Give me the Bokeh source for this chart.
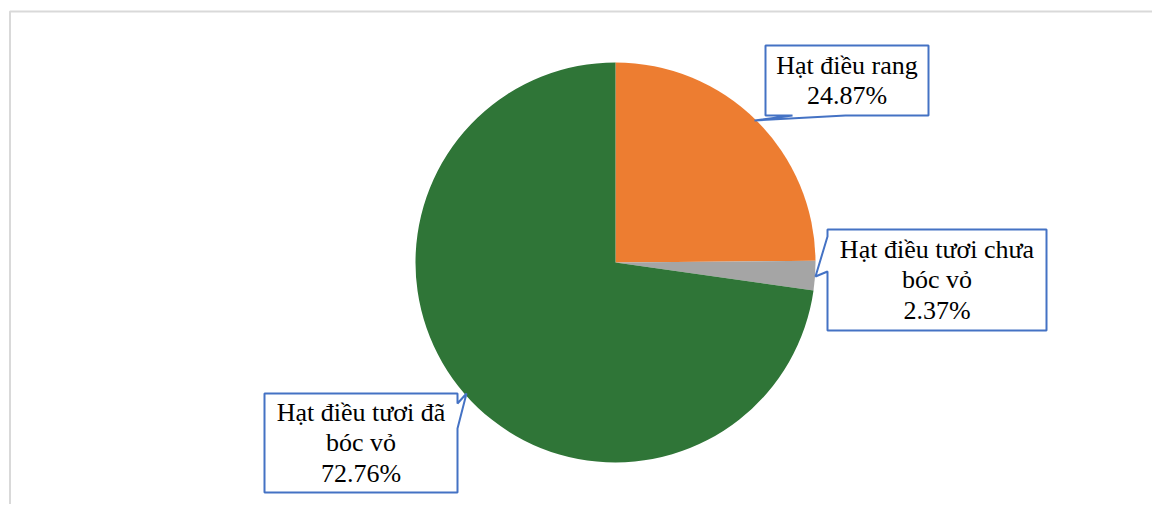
import math
from bokeh.plotting import figure
from bokeh.models import Range1d, ColumnDataSource
from bokeh.core.properties import value
from bokeh.embed import file_html
from bokeh.resources import INLINE

# ---- data ----
categories = ["Hạt điều rang", "Hạt điều tươi chưa bóc vỏ", "Hạt điều tươi đã bóc vỏ"]
shares = [24.87, 2.37, 72.76]
colors = ["#ED7D31", "#A5A5A5", "#2F7537"]
# how each category name is wrapped inside its callout
wrapped = [["Hạt điều rang"], ["Hạt điều tươi chưa", "bóc vỏ"], ["Hạt điều tươi đã", "bóc vỏ"]]

# ---- layout (page pixel coordinates) ----
W, H = 1152, 504


def X(px):
    return px


def Y(py):
    return H - py


center = (615, 262)
radius = 200

boxes = [
    dict(rect=(765, 45, 928, 115), side="bottom", tail=[(845, 115), (754, 120), (792, 115)]),
    dict(rect=(827, 229, 1046, 330), side="left", tail=[(827, 271), (815, 276), (827, 236)]),
    dict(rect=(264, 393, 457, 492), side="right", tail=[(457, 403), (466, 393), (457, 428)]),
]

p = figure(width=W, height=H, x_range=Range1d(0, W), y_range=Range1d(0, H),
           x_axis_type=None, y_axis_type=None, toolbar_location=None,
           output_backend="svg", min_border=0, outline_line_color=None)
p.grid.visible = False

# light chart frame (top & left edges visible)
p.line([X(9.5), X(9.5), X(1170)], [Y(530), Y(11), Y(11)], line_color="#D9D9D9", line_width=2)

# ---- pie ----
total = sum(shares)
starts, ends = [], []
a0 = math.pi / 2
for s in shares:
    a = s / total * 2 * math.pi
    starts.append(a0)
    ends.append(a0 - a)
    a0 -= a

src = ColumnDataSource(dict(cat=categories, share=shares, color=colors, start=starts, end=ends))
p.wedge(x=X(center[0]), y=Y(center[1]), radius=radius, start_angle="start", end_angle="end",
        direction="clock", fill_color="color", line_color=None, source=src)

# ---- callouts ----
tx, ty, tt = [], [], []
for b, lines, s in zip(boxes, wrapped, shares):
    x0, y0, x1, y1 = b["rect"]
    if b["side"] == "bottom":
        pts = [(x0, y0), (x1, y0), (x1, y1)] + b["tail"] + [(x0, y1)]
    elif b["side"] == "left":
        pts = [(x0, y0), (x1, y0), (x1, y1), (x0, y1)] + b["tail"]
    else:
        pts = [(x0, y0), (x1, y0)] + b["tail"] + [(x1, y1), (x0, y1)]
    p.patch([X(a) for a, _ in pts], [Y(c) for _, c in pts], fill_color="white",
            line_color="#4472C4", line_width=2)
    tx.append(X((x0 + x1) / 2))
    ty.append(Y((y0 + y1) / 2))
    tt.append("\n".join(lines + [f"{s:.2f}%"]))

p.text(x=tx, y=ty, text=tt, text_align="center", text_baseline="middle",
       text_font=value("Liberation Serif"), text_font_size="26px", text_color="black",
       text_line_height=1.06)

open("out.html", "w").write(file_html(p, INLINE))
